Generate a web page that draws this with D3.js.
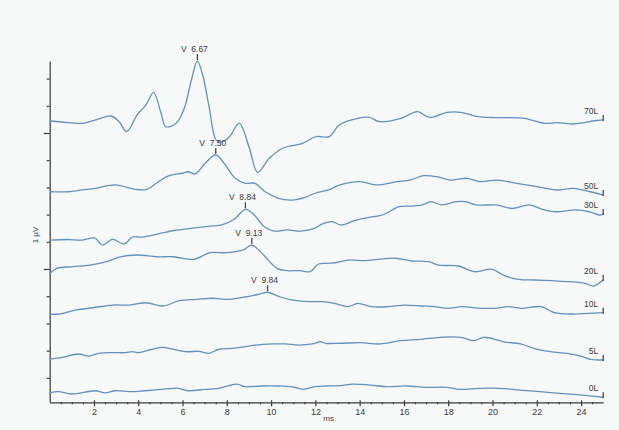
<!DOCTYPE html>
<html>
<head>
<meta charset="utf-8">
<script src="https://cdn.jsdelivr.net/npm/d3@7"></script>
<style>
  body { margin: 0; background: #fff; }
  svg { display: block; font-family: "Liberation Sans", Arial, sans-serif; }
</style>
</head>
<body>
<svg width="619" height="430"></svg>
<script>
// ABR traces: [latency ms, amplitude µV as stacked on the plot]
const trace70L = [[0,2.088],[0.89,2.076],[1.49,2.071],[2.09,2.096],[2.77,2.125],[3.14,2.083],[3.47,2.010],[3.97,2.138],[4.35,2.206],[4.69,2.299],[5.03,2.145],[5.25,2.046],[5.71,2.071],[6.08,2.182],[6.38,2.377],[6.67,2.529],[6.91,2.426],[7.21,2.182],[7.51,1.949],[7.74,1.934],[8.11,1.971],[8.56,2.071],[9.02,1.888],[9.39,1.711],[9.92,1.814],[10.52,1.888],[11.42,1.924],[12.03,1.973],[12.63,1.973],[13.08,2.059],[13.91,2.108],[14.44,2.115],[14.89,2.083],[15.87,2.108],[16.62,2.157],[17.15,2.115],[17.97,2.152],[18.58,2.152],[19.33,2.120],[20.23,2.113],[21.44,2.108],[22.34,2.071],[22.94,2.076],[23.62,2.066],[24.15,2.076],[24.6,2.090],[25,2.096]];
const trace50L = [[0,1.568],[0.85,1.568],[1.45,1.581],[2.06,1.593],[2.96,1.618],[3.86,1.586],[4.39,1.586],[4.91,1.642],[5.37,1.684],[5.97,1.704],[6.27,1.715],[6.57,1.699],[7.02,1.777],[7.50,1.838],[7.93,1.765],[8.38,1.667],[8.83,1.630],[9.28,1.630],[9.73,1.568],[10.33,1.520],[10.94,1.507],[11.54,1.527],[11.99,1.557],[12.59,1.581],[13.12,1.618],[14.02,1.642],[14.77,1.618],[15.68,1.642],[16.28,1.654],[16.88,1.686],[17.48,1.679],[18.09,1.654],[18.84,1.667],[19.44,1.642],[20.19,1.654],[21.10,1.630],[22.00,1.605],[22.90,1.581],[23.66,1.593],[24.41,1.568],[25,1.544]];
const trace30L = [[0,1.213],[0.80,1.217],[1.48,1.213],[2.02,1.228],[2.39,1.176],[2.84,1.218],[3.37,1.184],[3.74,1.235],[4.19,1.235],[4.87,1.257],[5.62,1.283],[6.37,1.299],[7.13,1.313],[7.81,1.327],[8.35,1.368],[8.84,1.439],[9.24,1.397],[9.69,1.311],[10.14,1.279],[10.74,1.287],[11.34,1.279],[11.95,1.299],[12.32,1.331],[12.77,1.348],[13.15,1.324],[13.83,1.360],[14.43,1.380],[15.03,1.397],[15.79,1.458],[16.39,1.463],[16.84,1.471],[17.21,1.495],[17.74,1.471],[18.34,1.495],[18.79,1.495],[19.25,1.471],[20.15,1.471],[20.90,1.446],[21.66,1.471],[22.26,1.439],[22.86,1.421],[23.76,1.434],[24.37,1.421],[24.82,1.397],[25,1.404]];
const trace20L = [[0,0.967],[0.32,1.005],[1.08,1.017],[1.83,1.029],[2.58,1.054],[3.18,1.090],[3.93,1.103],[4.84,1.090],[5.59,1.090],[6.50,1.071],[7.25,1.120],[8.00,1.120],[8.75,1.140],[9.13,1.176],[9.66,1.103],[10.26,1.005],[10.71,0.988],[11.31,0.988],[11.76,0.980],[12.14,1.037],[12.52,1.042],[12.89,1.046],[13.50,1.066],[14.25,1.061],[14.85,1.071],[15.60,1.079],[16.36,1.059],[17.11,1.054],[17.56,1.029],[18.46,1.022],[19.21,0.980],[19.97,0.998],[20.57,0.949],[21.17,0.924],[21.92,0.919],[22.68,0.914],[23.43,0.907],[24.18,0.895],[24.56,0.875],[25,0.919]];
const trace10L = [[0,0.669],[0.44,0.669],[1.20,0.699],[1.95,0.715],[2.86,0.735],[3.60,0.735],[4.36,0.752],[5.11,0.728],[5.86,0.767],[6.62,0.777],[7.37,0.785],[8.12,0.777],[8.88,0.796],[9.48,0.816],[9.84,0.829],[10.38,0.796],[10.99,0.772],[11.73,0.760],[12.26,0.760],[12.86,0.748],[13.47,0.723],[13.92,0.748],[14.52,0.723],[15.28,0.723],[16.03,0.735],[16.78,0.728],[17.38,0.723],[17.99,0.711],[18.59,0.723],[19.49,0.711],[20.09,0.711],[20.70,0.723],[21.30,0.711],[22.20,0.723],[22.80,0.679],[23.70,0.669],[24.31,0.674],[25,0.679]];
const trace5L = [[0,0.338],[0.57,0.351],[1.31,0.375],[1.77,0.360],[2.22,0.380],[2.82,0.385],[3.42,0.385],[3.73,0.392],[4.02,0.385],[4.63,0.410],[5.08,0.424],[5.53,0.412],[6.13,0.392],[6.73,0.395],[7.19,0.380],[7.64,0.410],[8.24,0.417],[8.84,0.429],[9.30,0.441],[10.05,0.449],[10.65,0.449],[11.25,0.441],[11.86,0.449],[12.23,0.465],[12.46,0.454],[13.14,0.454],[14.04,0.458],[14.94,0.449],[15.85,0.473],[16.75,0.483],[17.65,0.498],[18.56,0.498],[19.16,0.473],[19.61,0.498],[20.51,0.465],[21.27,0.449],[21.87,0.417],[22.62,0.392],[23.37,0.380],[23.98,0.360],[24.43,0.336],[25,0.331]];
const trace0L = [[0,0.090],[0.39,0.098],[0.99,0.081],[2.05,0.105],[2.50,0.090],[2.95,0.105],[3.70,0.098],[4.30,0.105],[5.06,0.115],[5.81,0.123],[6.26,0.105],[7.01,0.115],[7.62,0.123],[8.45,0.154],[8.82,0.135],[9.58,0.140],[10.33,0.140],[10.93,0.135],[11.45,0.115],[11.98,0.135],[12.44,0.140],[13.11,0.142],[13.71,0.154],[14.47,0.147],[15.22,0.135],[16.13,0.140],[17.03,0.130],[17.93,0.130],[18.53,0.115],[19.44,0.123],[20.34,0.123],[21.24,0.110],[22.15,0.098],[23.05,0.086],[23.95,0.074],[24.55,0.066],[25,0.057]];

const levels = ['70L', '50L', '30L', '20L', '10L', '5L', '0L'];
const traces = [trace70L, trace50L, trace30L, trace20L, trace10L, trace5L, trace0L];

// wave V latencies (ms)
const peakLevels = ['70L', '50L', '30L', '20L', '10L'];
const peakLatencies = [6.67, 7.50, 8.84, 9.13, 9.84];

const xTicks = d3.range(2, 25, 2);
const xMinorTicks = d3.range(0.5, 25, 0.5).filter(v => v % 2 !== 0);
const yTicks = d3.range(0.2, 2.5, 0.2);
const yMajorTicks = [1, 2];

const svg = d3.select('svg'),
  width = +svg.attr('width'),
  height = +svg.attr('height');

const lineColor = '#5f92c0';
const inkColor = '#3a3a3a';

svg.append('rect')
  .attr('width', width)
  .attr('height', height)
  .attr('fill', '#f7f8f8');

const x = d3.scaleLinear().domain([0, 25]).range([49.7, 603.2]);
const y = d3.scaleLinear().domain([0.02, 2.53]).range([402.3, 60.9]);

// x axis
const xAxis = svg.append('g')
  .attr('transform', `translate(0, ${y(0.02)})`)
  .call(d3.axisBottom(x).tickValues(xTicks).tickSize(4).tickSizeOuter(0).tickPadding(2));
xAxis.selectAll('.tick line').attr('y1', -2);
svg.append('g')
  .attr('transform', `translate(0, ${y(0.02)})`)
  .call(d3.axisBottom(x).tickValues(xMinorTicks).tickSize(2).tickFormat(''))
  .call(g => g.select('.domain').remove());

// y axis
svg.append('g')
  .attr('transform', `translate(${x(0)}, 0)`)
  .call(d3.axisLeft(y).tickValues(yTicks.filter(v => !yMajorTicks.some(m => Math.abs(m - v) < 1e-6)))
    .tickSize(3).tickSizeOuter(0).tickFormat(''));
svg.append('g')
  .attr('transform', `translate(${x(0)}, 0)`)
  .call(d3.axisLeft(y).tickValues(yMajorTicks).tickSize(6).tickFormat(''))
  .call(g => g.select('.domain').remove());

svg.selectAll('.domain, .tick line')
  .attr('stroke', inkColor)
  .attr('stroke-width', 1.2);
svg.selectAll('.tick text')
  .attr('fill', inkColor)
  .style('font-size', '9px');

svg.append('text')
  .attr('x', x(12.6))
  .attr('y', 421)
  .attr('text-anchor', 'middle')
  .attr('fill', inkColor)
  .style('font-size', '8px')
  .text('ms');

svg.append('text')
  .attr('transform', `translate(38, ${y(1.25)}) rotate(-90)`)
  .attr('text-anchor', 'middle')
  .attr('fill', inkColor)
  .style('font-size', '8px')
  .text('1 µV');

// traces
const line = d3.line()
  .curve(d3.curveCatmullRom.alpha(0.5))
  .x(d => x(d[0]))
  .y(d => y(d[1]));

const trace = svg.selectAll('.trace')
  .data(traces)
  .enter()
  .append('g')
  .attr('class', 'trace');

trace.append('path')
  .attr('d', line)
  .attr('fill', 'none')
  .attr('stroke', lineColor)
  .attr('stroke-width', 1.3)
  .attr('stroke-linejoin', 'round');

// end markers and level labels
trace.append('line')
  .attr('x1', d => x(d[d.length - 1][0]))
  .attr('x2', d => x(d[d.length - 1][0]))
  .attr('y1', d => y(d[d.length - 1][1]) - 5)
  .attr('y2', d => y(d[d.length - 1][1]) + 1)
  .attr('stroke', inkColor)
  .attr('stroke-width', 1.2);

trace.append('text')
  .attr('x', d => x(d[d.length - 1][0]) - 5)
  .attr('y', d => y(d[d.length - 1][1]) - 6)
  .attr('text-anchor', 'end')
  .attr('fill', inkColor)
  .style('font-size', '8.5px')
  .text((d, i) => levels[i]);

// wave V markers
const bisect = d3.bisector(d => d[0]).left;
const valueAt = (data, ms) => {
  const i = bisect(data, ms);
  const a = data[Math.max(0, i - 1)], b = data[Math.min(data.length - 1, i)];
  if (a === b || b[0] === a[0]) return b[1];
  return a[1] + (b[1] - a[1]) * (ms - a[0]) / (b[0] - a[0]);
};

const peaks = peakLevels.map((lvl, i) => ({
  ms: peakLatencies[i],
  v: valueAt(traces[levels.indexOf(lvl)], peakLatencies[i])
}));

const peak = svg.selectAll('.peak')
  .data(peaks)
  .enter()
  .append('g')
  .attr('class', 'peak')
  .attr('transform', d => `translate(${x(d.ms)}, ${y(d.v)})`);

peak.append('line')
  .attr('y1', -7)
  .attr('y2', -1)
  .attr('stroke', inkColor)
  .attr('stroke-width', 1.2);

peak.append('text')
  .attr('y', -9)
  .attr('x', -3)
  .attr('text-anchor', 'middle')
  .attr('fill', inkColor)
  .style('font-size', '8.5px')
  .style('white-space', 'pre')
  .text(d => `V  ${d.ms.toFixed(2)}`);
</script>
</body>
</html>
